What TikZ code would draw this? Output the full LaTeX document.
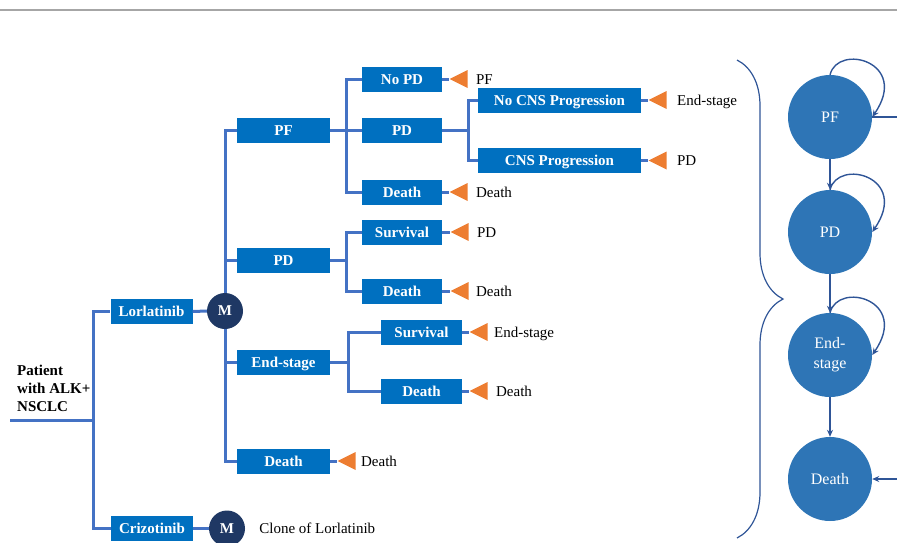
\documentclass[tikz,border=0pt]{standalone}
\usepackage{fontspec}
\setmainfont{Liberation Serif}
\usepackage{xcolor}
\usepackage{tikz}
\usetikzlibrary{positioning,shapes.geometric,arrows.meta,decorations.pathreplacing}
\definecolor{boxblue}{HTML}{0070C0}
\definecolor{treeblue}{HTML}{4472C4}
\definecolor{navy}{HTML}{1F3864}
\definecolor{tipor}{HTML}{ED7D31}
\definecolor{stateblue}{HTML}{2E75B6}
\definecolor{arrowblue}{HTML}{2F5597}
\definecolor{rulegray}{HTML}{A6A6A6}
\tikzset{
  tree/.style={draw=treeblue, line width=3pt},
  box/.style={fill=boxblue, text=white, font=\fontsize{15}{18}\selectfont\bfseries,
    minimum height=25pt, inner sep=0pt, text height=10pt, text depth=0pt},
  mnode/.style={circle, fill=navy, text=white, font=\fontsize{15}{18}\selectfont\bfseries,
    minimum size=36pt, inner sep=0pt},
  endtri/.style={isosceles triangle, shape border rotate=180, isosceles triangle stretches,
    fill=tipor, minimum width=18pt, minimum height=18pt, inner sep=0pt},
  lbl/.style={font=\fontsize{15}{18}\selectfont, inner sep=0pt, text height=10pt, text depth=0pt},
  stnode/.style={circle, fill=stateblue, text=white, font=\fontsize{16}{20}\selectfont,
    minimum size=84pt, inner sep=0pt, align=center},
  arr/.style={draw=arrowblue, line width=1.4pt, -{Stealth[length=7pt,width=6pt]}},
  bracel/.style={draw=arrowblue, line width=1.2pt, decorate, decoration={brace, amplitude=46pt}}
}

\begin{document}
\begin{tikzpicture}[x=1pt, y=-1pt]
  \useasboundingbox (0,0) rectangle (897,542);
  \clip (0,0) rectangle (897,542);
  \draw[rulegray, line width=2pt] (0,9.5) -- (897,9.5);

  % root
  \node[lbl, anchor=west, align=left, font=\fontsize{15}{18}\selectfont\bfseries, text height=, text depth=]
    (patient) at (17,388) {Patient\\with ALK+\\NSCLC};
  \coordinate (root) at (10,420);
  \coordinate (rj) at (93,420);

  \node[box, minimum width=82pt] (lorl) at (151.5,311.5) {Lorlatinib};
  \node[box, minimum width=82pt] (criz) at (152,528.5) {Crizotinib};
  \node[mnode] (m1) at (225,311) {M};
  \node[mnode] (m2) at (227,528.5) {M};
  \node[lbl, right=14pt of m2] (clone) {Clone of Lorlatinib};

  % health states after Lorlatinib
  \node[box, minimum width=93pt] (pf) at (283.5,130) {PF};
  \node[box, minimum width=93pt] (pd) at (283.5,260.5) {PD};
  \node[box, minimum width=93pt] (es) at (283.5,362) {End-stage};
  \node[box, minimum width=93pt] (death) at (283.5,461) {Death};

  % PF branch
  \node[box, minimum width=80pt] (nopd) at (402,79) {No PD};
  \node[box, minimum width=80pt] (pfpd) at (402,130) {PD};
  \node[box, minimum width=80pt] (pfdeath) at (402,192) {Death};
  \node[box, minimum width=163pt] (nocns) at (559.5,100) {No CNS Progression};
  \node[box, minimum width=163pt] (cns) at (559.5,160.5) {CNS Progression};

  % PD branch
  \node[box, minimum width=80pt] (pdsurv) at (402,232) {Survival};
  \node[box, minimum width=80pt] (pddeath) at (402,291) {Death};

  % End-stage branch
  \node[box, minimum width=81pt] (essurv) at (421.5,332) {Survival};
  \node[box, minimum width=81pt] (esdeath) at (421.5,391) {Death};

  % terminal nodes
  \node[endtri, right=7pt of nopd] (t1) {};
  \node[endtri, right=7pt of nocns] (t2) {};
  \node[endtri, right=7pt of cns] (t3) {};
  \node[endtri, right=7pt of pfdeath] (t4) {};
  \node[endtri, right=8pt of pdsurv] (t5) {};
  \node[endtri, right=8pt of pddeath] (t6) {};
  \node[endtri, right=7pt of essurv] (t7) {};
  \node[endtri, right=7pt of esdeath] (t8) {};
  \node[endtri, right=7pt of death] (t9) {};
  \node[lbl, right=8pt of t1] (l1) {PF};
  \node[lbl, right=10pt of t2] (l2) {End-stage};
  \node[lbl, right=10pt of t3] (l3) {PD};
  \node[lbl, right=8pt of t4] (l4) {Death};
  \node[lbl, right=8pt of t5] (l5) {PD};
  \node[lbl, right=7pt of t6] (l6) {Death};
  \node[lbl, right=6pt of t7] (l7) {End-stage};
  \node[lbl, right=8pt of t8] (l8) {Death};
  \node[lbl, right=5pt of t9] (l9) {Death};

  % tree lines
  \draw[tree] (root) -- (rj);
  \draw[tree] (rj) |- (lorl.west);
  \draw[tree] (rj) |- (criz.west);
  \draw[tree] (lorl.east) -- (m1.west);
  \draw[tree] (criz.east) -- (m2.west);
  \draw[tree] (m1.north) |- (pf.west);
  \draw[tree] (m1.north) |- (pd.west);
  \draw[tree] (m1.south) |- (es.west);
  \draw[tree] (m1.south) |- (death.west);

  \coordinate (pfj) at (346,130);
  \draw[tree] (pf.east) -- (pfj) -- (pfpd.west);
  \draw[tree] (pfj) |- (nopd.west);
  \draw[tree] (pfj) |- (pfdeath.west);
  \coordinate (cj) at (468,130);
  \draw[tree] (pfpd.east) -- (cj);
  \draw[tree] (cj) |- (nocns.west);
  \draw[tree] (cj) |- (cns.west);

  \coordinate (pdj) at (346,260.5);
  \draw[tree] (pd.east) -- (pdj);
  \draw[tree] (pdj) |- (pdsurv.west);
  \draw[tree] (pdj) |- (pddeath.west);

  \coordinate (esj) at (348,362);
  \draw[tree] (es.east) -- (esj);
  \draw[tree] (esj) |- (essurv.west);
  \draw[tree] (esj) |- (esdeath.west);

  \draw[tree] (nopd.east) -- (t1.west);
  \draw[tree] (nocns.east) -- (t2.west);
  \draw[tree] (cns.east) -- (t3.west);
  \draw[tree] (pfdeath.east) -- (t4.west);
  \draw[tree] (pdsurv.east) -- (t5.west);
  \draw[tree] (pddeath.east) -- (t6.west);
  \draw[tree] (essurv.east) -- (t7.west);
  \draw[tree] (esdeath.east) -- (t8.west);
  \draw[tree] (death.east) -- (t9.west);

  % Markov states
  \coordinate (btop) at (737,60);
  \coordinate (bbot) at (737,538);
  \draw[bracel] (btop) -- (bbot);

  \node[stnode] (sPF) at (830,117) {PF};
  \node[stnode] (sPD) at (830,232) {PD};
  \node[stnode] (sES) at (830,355) {End-\\stage};
  \node[stnode] (sD) at (830,479) {Death};

  \draw[arr] (sPF) -- (sPD);
  \draw[arr] (sPD) -- (sES);
  \draw[arr] (sES) -- (sD);
  \draw[arr] (sPF.north) .. controls +(8,-32) and +(38,-55) .. (sPF.east);
  \draw[arr] (sPD.north) .. controls +(8,-32) and +(38,-55) .. (sPD.east);
  \draw[arr] (sES.north) .. controls +(8,-32) and +(38,-55) .. (sES.east);
  \draw[arr] (sPF.east) -- ++(40,0) |- (sD.east);
\end{tikzpicture}
\end{document}
